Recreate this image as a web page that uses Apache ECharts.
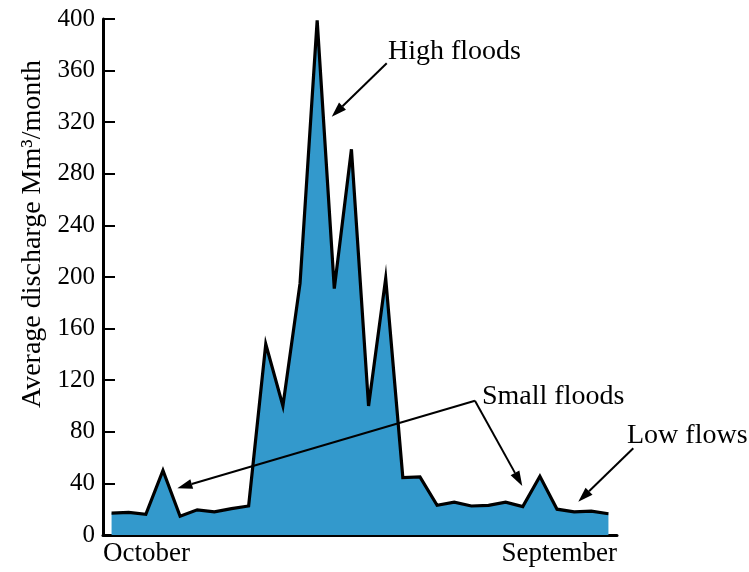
<!DOCTYPE html>
<html>
<head>
<meta charset="utf-8">
<script src="https://cdn.jsdelivr.net/npm/echarts@6/dist/echarts.min.js"></script>
<style>
  html, body { margin: 0; padding: 0; background: #fff; }
  #main { width: 749px; height: 572px; }
</style>
</head>
<body>
<div id="main"></div>
<script>
// monthly-ish discharge readings, Oct -> Sep
var discharge = [17, 17.5, 16, 50, 14.5, 19.5, 18, 20.5, 22.5, 148,
                 100, 195, 399, 191, 299, 100, 199, 44.5, 45, 23,
                 25.5, 22.5, 23, 25.5, 22, 45.5, 20, 18, 18.5, 16.5];
var monthLabels = ['October', 'September'];
var yTicks = [0, 40, 80, 120, 160, 200, 240, 280, 320, 360, 400];

// annotation arrows in data space: [from, to]
var arrows = [
  [[16.06, 365.7], [12.85, 324.3]],   // High floods
  [[21.21, 104.1], [3.84, 36.2]],     // Small floods (left)
  [[21.21, 104.1], [23.97, 38]],      // Small floods (right)
  [[30.45, 67.2], [27.24, 25.8]]      // Low flows
];

var serif = "'Liberation Serif', 'Times New Roman', serif";

var points = discharge.map(function (v, i) { return [i, v]; });

var myChart = echarts.init(document.getElementById('main'));

var option = {
  animation: false,
  grid: { left: 103, right: 132, top: 19, bottom: 37, containLabel: false, outerBoundsMode: 'none' },
  xAxis: {
    type: 'value',
    min: -0.5,
    max: 29.5,
    interval: 30,
    splitLine: { show: false },
    axisTick: { show: false },
    axisLine: { onZero: false, lineStyle: { color: '#000', width: 3 } },
    axisLabel: {
      color: '#000',
      fontFamily: serif,
      fontSize: 27,
      margin: 5,
      alignMinLabel: 'left',
      alignMaxLabel: 'right',
      formatter: function (v) { return v < 0 ? monthLabels[0] : monthLabels[1]; }
    }
  },
  yAxis: {
    type: 'value',
    min: yTicks[0],
    max: yTicks[yTicks.length - 1],
    interval: 40,
    splitLine: { show: false },
    axisLine: { show: true, onZero: false, lineStyle: { color: '#000', width: 3 } },
    axisTick: { show: true, inside: true, length: 12, lineStyle: { color: '#000', width: 2 } },
    axisLabel: { color: '#000', fontFamily: serif, fontSize: 25, margin: 8 },
    name: 'Average discharge Mm\u00b3/month',
    nameLocation: 'middle',
    nameRotate: 90,
    nameGap: 51,
    nameTextStyle: { color: '#000', fontFamily: serif, fontSize: 28, padding: [0, 0, 0, 86] }
  },
  series: [{
    type: 'line',
    data: points,
    symbol: 'none',
    lineStyle: { color: '#000', width: 3.2, join: 'miter' },
    areaStyle: { color: 'rgb(51,153,204)', opacity: 1 }
  }]
};

myChart.setOption(option);

// arrows + labels drawn on top, positions taken from the chart's own scales
function arrowShapes(pair) {
  var a = myChart.convertToPixel({ gridIndex: 0 }, pair[0]);
  var b = myChart.convertToPixel({ gridIndex: 0 }, pair[1]);
  var ang = Math.atan2(b[1] - a[1], b[0] - a[0]);
  var len = 15, half = 5;
  var bx = b[0] - len * Math.cos(ang), by = b[1] - len * Math.sin(ang);
  var px = -Math.sin(ang) * half, py = Math.cos(ang) * half;
  return [
    { type: 'line', z: 100, shape: { x1: a[0], y1: a[1], x2: bx, y2: by }, style: { stroke: '#000', lineWidth: 2 } },
    { type: 'polygon', z: 100, shape: { points: [[b[0], b[1]], [bx + px, by + py], [bx - px, by - py]] }, style: { fill: '#000' } }
  ];
}

var graphics = [];
arrows.forEach(function (p) { graphics = graphics.concat(arrowShapes(p)); });
graphics.push(
  { type: 'text', z: 100, style: { x: 388, y: 52, text: 'High floods', font: '28px ' + serif, fill: '#000', verticalAlign: 'middle' } },
  { type: 'text', z: 100, style: { x: 482, y: 397, text: 'Small floods', font: '28px ' + serif, fill: '#000', verticalAlign: 'middle' } },
  { type: 'text', z: 100, style: { x: 627, y: 436, text: 'Low flows', font: '28px ' + serif, fill: '#000', verticalAlign: 'middle' } }
);
myChart.setOption({ graphic: graphics });
</script>
</body>
</html>
